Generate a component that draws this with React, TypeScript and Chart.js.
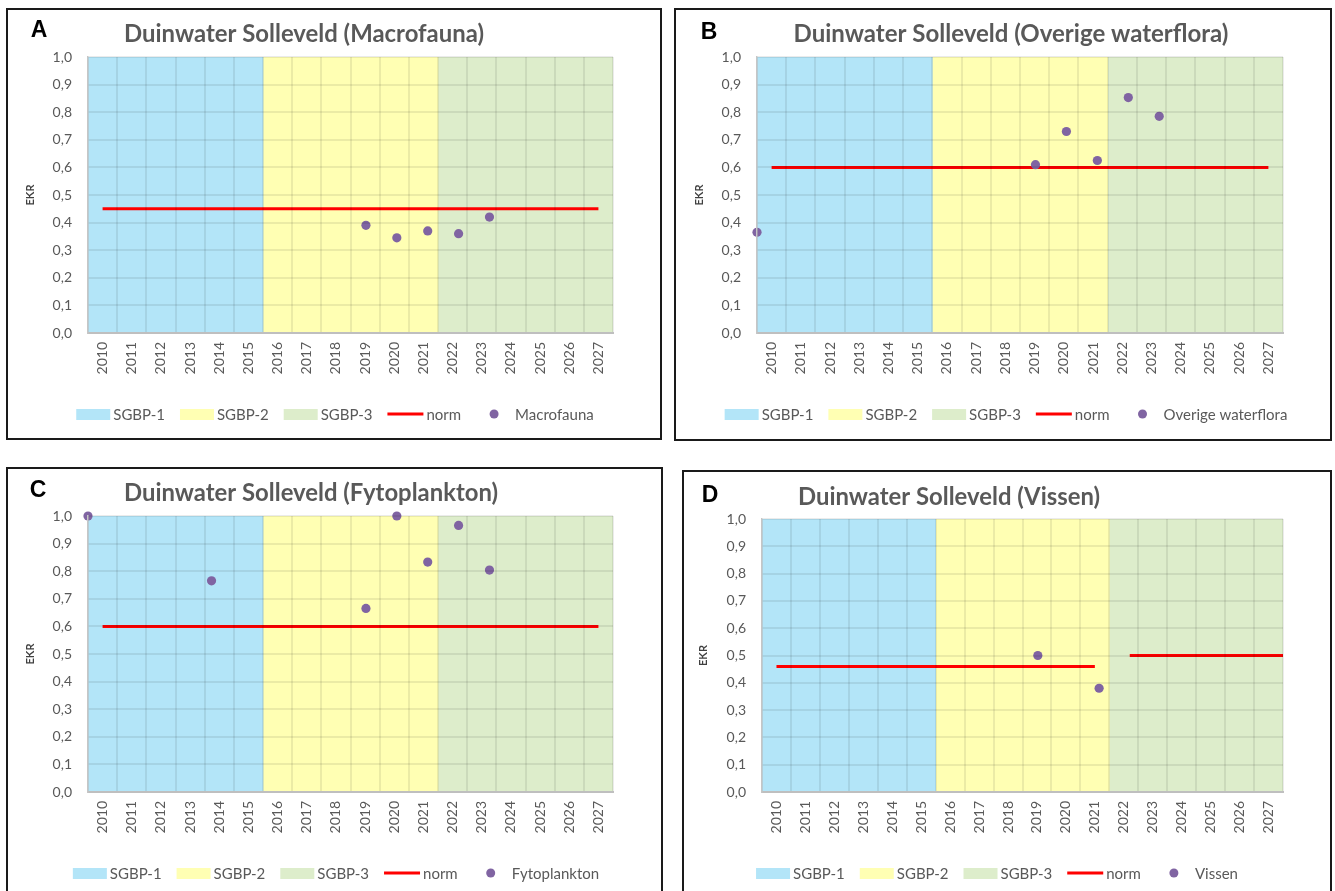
import React, { useEffect, useRef } from 'react';
import { Chart, registerables } from 'chart.js';

Chart.register(...registerables);

// ---- data ----
const years = ['2010', '2011', '2012', '2013', '2014', '2015', '2016', '2017', '2018',
  '2019', '2020', '2021', '2022', '2023', '2024', '2025', '2026', '2027'];

// planning periods (SGBP) drawn as full-height background bars
const sgbp1 = [1, 1, 1, 1, 1, 1, null, null, null, null, null, null, null, null, null, null, null, null];
const sgbp2 = [null, null, null, null, null, null, 1, 1, 1, 1, 1, 1, null, null, null, null, null, null];
const sgbp3 = [null, null, null, null, null, null, null, null, null, null, null, null, 1, 1, 1, 1, 1, 1];

// norm per year
const normMacrofauna = [0.45, 0.45, 0.45, 0.45, 0.45, 0.45, 0.45, 0.45, 0.45, 0.45, 0.45, 0.45, 0.45, 0.45, 0.45, 0.45, 0.45, 0.45];
const normWaterflora = [0.6, 0.6, 0.6, 0.6, 0.6, 0.6, 0.6, 0.6, 0.6, 0.6, 0.6, 0.6, 0.6, 0.6, 0.6, 0.6, 0.6, 0.6];
const normFytoplankton = [0.6, 0.6, 0.6, 0.6, 0.6, 0.6, 0.6, 0.6, 0.6, 0.6, 0.6, 0.6, 0.6, 0.6, 0.6, 0.6, 0.6, 0.6];
const normVissen = [0.46, 0.46, 0.46, 0.46, 0.46, 0.46, 0.46, 0.46, 0.46, 0.46, 0.46, 0.46, null, null, null, null, null, null];
const normVissenLateYears = [2022, 2027];
const normVissenLate = [0.5, 0.5];

// measured EKR scores
const macrofaunaYears = [2019, 2020, 2021, 2022, 2023];
const macrofaunaEkr = [0.39, 0.345, 0.37, 0.36, 0.42];
const waterfloraYears = [2010, 2019, 2020, 2021, 2022, 2023];
const waterfloraEkr = [0.365, 0.61, 0.73, 0.625, 0.853, 0.785];
const fytoplanktonYears = [2010, 2014, 2019, 2020, 2021, 2022, 2023];
const fytoplanktonEkr = [1.0, 0.765, 0.665, 1.0, 0.833, 0.966, 0.804];
const vissenYears = [2019, 2021];
const vissenEkr = [0.5, 0.38];

// ---- styling ----
const FONT = 'Lato, "Open Sans", "DejaVu Sans", sans-serif';
const TEXT = '#595959';
const BLUE = '#B3E5F8';
const YELLOW = '#FFFFB3';
const GREEN = '#DDEDCB';
const RED = '#FF0000';
const PURPLE = '#8064A2';
const GRID = 'rgba(0,0,0,0.08)';

type Box = { x: number; y: number; w: number; h: number };
type Area = { l: number; t: number; r: number; b: number };
type Panel = {
  letter: string;
  title: string;
  series: string;
  box: Box;
  plot: Area;
  titleX: number; titleY: number; titleW: number;
  letterX: number; letterY: number;
  ekrX: number;
  legendX: number; legendY: number;
  norm: (number | null)[];
  normLate?: { x: number; y: number }[];
  points: { x: number; y: number }[];
};

const toPoints = (xs: number[], ys: number[]) => xs.map((x, i) => ({ x, y: ys[i] }));

const panels: Panel[] = [
  {
    letter: 'A', title: 'Duinwater Solleveld (Macrofauna)', series: 'Macrofauna',
    box: { x: 6, y: 8, w: 656, h: 432 }, plot: { l: 88, t: 57, r: 613, b: 333 },
    titleX: 304, titleY: 34, titleW: 360, letterX: 39, letterY: 30, ekrX: 30,
    legendX: 335, legendY: 414,
    norm: normMacrofauna, points: toPoints(macrofaunaYears, macrofaunaEkr),
  },
  {
    letter: 'B', title: 'Duinwater Solleveld (Overige waterflora)', series: 'Overige waterflora',
    box: { x: 674, y: 8, w: 658, h: 433 }, plot: { l: 757, t: 57, r: 1283, b: 333 },
    titleX: 1011, titleY: 34, titleW: 435, letterX: 709, letterY: 32, ekrX: 699,
    legendX: 1006, legendY: 414,
    norm: normWaterflora, points: toPoints(waterfloraYears, waterfloraEkr),
  },
  {
    letter: 'C', title: 'Duinwater Solleveld (Fytoplankton)', series: 'Fytoplankton',
    box: { x: 6, y: 467, w: 657, h: 432 }, plot: { l: 88, t: 516, r: 613, b: 792 },
    titleX: 311, titleY: 493, titleW: 374, letterX: 38, letterY: 490, ekrX: 30,
    legendX: 336, legendY: 873,
    norm: normFytoplankton, points: toPoints(fytoplanktonYears, fytoplanktonEkr),
  },
  {
    letter: 'D', title: 'Duinwater Solleveld (Vissen)', series: 'Vissen',
    box: { x: 682, y: 470, w: 650, h: 432 }, plot: { l: 762, t: 519, r: 1283, b: 792 },
    titleX: 949, titleY: 497, titleW: 302, letterX: 710, letterY: 495, ekrX: 703,
    legendX: 997, legendY: 873,
    norm: normVissen, normLate: toPoints(normVissenLateYears, normVissenLate),
    points: toPoints(vissenYears, vissenEkr),
  },
];

// draws the panel letter, the title and the legend row
function decorPlugin(p: Panel) {
  return {
    id: 'panelDecor',
    afterDraw(chart: any) {
      const ctx: CanvasRenderingContext2D = chart.ctx;
      const ox = p.box.x;
      const oy = p.box.y;
      ctx.save();

      // panel letter
      ctx.fillStyle = '#000';
      ctx.font = `bold 23px "Liberation Sans", Arial, sans-serif`;
      ctx.textAlign = 'center';
      ctx.textBaseline = 'middle';
      ctx.fillText(p.letter, p.letterX - ox, p.letterY - oy + 1);

      // title, sized to its width
      ctx.font = `bold 20px ${FONT}`;
      const w20 = ctx.measureText(p.title).width;
      const size = (20 * p.titleW) / w20;
      ctx.font = `bold ${size.toFixed(2)}px ${FONT}`;
      ctx.fillStyle = TEXT;
      ctx.fillText(p.title, p.titleX - ox, p.titleY - oy);

      // legend
      const items = chart.data.datasets
        .filter((d: any) => !d.hideInLegend)
        .map((d: any) => ({
          label: d.label as string,
          kind: d.type === 'bar' ? 'box' : d.type === 'line' ? 'line' : 'dot',
          color: (d.type === 'line' ? d.borderColor : d.backgroundColor) as string,
        }));
      ctx.font = `15px ${FONT}`;
      const keyW = (k: string) => (k === 'box' ? 34 : 36);
      const textGap = 3;
      const itemGap = 15;
      let total = 0;
      items.forEach((it: any, i: number) => {
        total += keyW(it.kind) + textGap + ctx.measureText(it.label).width;
        if (i < items.length - 1) total += itemGap;
      });
      let cx = p.legendX - ox - total / 2;
      const cy = p.legendY - oy;
      ctx.textAlign = 'left';
      ctx.textBaseline = 'middle';
      items.forEach((it: any) => {
        const kw = keyW(it.kind);
        if (it.kind === 'box') {
          ctx.fillStyle = it.color;
          ctx.fillRect(cx, cy - 5, kw, 11);
        } else if (it.kind === 'line') {
          ctx.strokeStyle = it.color;
          ctx.lineWidth = 3;
          ctx.beginPath();
          ctx.moveTo(cx, cy);
          ctx.lineTo(cx + kw, cy);
          ctx.stroke();
        } else {
          ctx.fillStyle = it.color;
          ctx.beginPath();
          ctx.arc(cx + kw / 2, cy, 4.5, 0, Math.PI * 2);
          ctx.fill();
        }
        cx += kw + textGap;
        ctx.fillStyle = TEXT;
        ctx.fillText(it.label, cx, cy + 1);
        cx += ctx.measureText(it.label).width + itemGap;
      });
      ctx.restore();
    },
  };
}

function buildConfig(p: Panel): any {
  const padLeft = p.ekrX - p.box.x - 6;
  const yWidth = p.plot.l - p.box.x - padLeft;
  const padTop = p.plot.t - p.box.y;
  const padRight = p.box.x + p.box.w - p.plot.r;
  const xHeight = p.box.y + p.box.h - p.plot.b;
  const tickFont = { family: FONT, size: 14 };

  const bandDefaults = {
    type: 'bar',
    barPercentage: 1,
    categoryPercentage: 1,
    grouped: false,
    borderWidth: 0,
    order: 3,
  };

  const datasets: any[] = [
    { ...bandDefaults, label: 'SGBP-1', data: sgbp1, backgroundColor: BLUE },
    { ...bandDefaults, label: 'SGBP-2', data: sgbp2, backgroundColor: YELLOW },
    { ...bandDefaults, label: 'SGBP-3', data: sgbp3, backgroundColor: GREEN },
    {
      type: 'line', label: 'norm', data: p.norm, borderColor: RED, backgroundColor: RED,
      borderWidth: 3, pointRadius: 0, fill: false, spanGaps: false, order: 1,
    },
  ];
  if (p.normLate) {
    datasets.push({
      type: 'line', label: 'norm', data: p.normLate, xAxisID: 'x2', borderColor: RED,
      backgroundColor: RED, borderWidth: 3, pointRadius: 0, fill: false, order: 1,
      hideInLegend: true,
    });
  }
  datasets.push({
    type: 'scatter', label: p.series, data: p.points, xAxisID: 'x2',
    backgroundColor: PURPLE, borderColor: PURPLE, pointRadius: 4.6, pointBorderWidth: 0,
    borderWidth: 0, showLine: false, order: 0, clip: false,
  });

  return {
    type: 'bar',
    data: { labels: years, datasets },
    options: {
      responsive: false,
      animation: false,
      events: [],
      layout: { padding: { left: padLeft, top: padTop, right: padRight, bottom: 0 } },
      plugins: { legend: { display: false }, title: { display: false }, tooltip: { enabled: false } },
      scales: {
        x: {
          type: 'category',
          offset: true,
          grid: { color: GRID, offset: true, drawTicks: false, lineWidth: 2, z: 1 },
          border: { color: '#BFBFBF', width: 2, z: 2 },
          ticks: {
            autoSkip: false, minRotation: 90, maxRotation: 90, padding: 9,
            color: TEXT, font: tickFont,
          },
          afterFit: (s: any) => { s.height = xHeight; },
        },
        x2: {
          type: 'linear', display: false, offset: false, min: 2010, max: 2027,
          grid: { offset: false },
        },
        y: {
          min: 0,
          max: 1,
          grid: { color: GRID, drawTicks: false, lineWidth: 2, z: 1 },
          border: { color: '#C6C6C6', width: 1.5, z: 2 },
          ticks: {
            stepSize: 0.1, padding: 16, color: TEXT, font: tickFont,
            callback: (v: any) => Number(v).toFixed(1).replace('.', ','),
          },
          title: {
            display: true, text: 'EKR', color: '#404040', padding: 0,
            font: { family: FONT, size: 11, weight: 'bold' },
          },
          afterFit: (s: any) => { s.width = yWidth; },
        },
      },
    },
    plugins: [decorPlugin(p)],
  };
}

function PanelChart({ panel }: { panel: Panel }) {
  const ref = useRef<HTMLCanvasElement>(null);
  useEffect(() => {
    if (!ref.current) return;
    const chart = new Chart(ref.current, buildConfig(panel));
    return () => chart.destroy();
  }, [panel]);
  const { x, y, w, h } = panel.box;
  return (
    <>
      <canvas
        ref={ref}
        width={w}
        height={h}
        style={{ position: 'absolute', left: x, top: y, width: w, height: h }}
      />
      <div
        style={{
          position: 'absolute', left: x, top: y, width: w, height: h,
          border: '2px solid #1a1a1a', boxSizing: 'border-box', pointerEvents: 'none',
        }}
      />
    </>
  );
}

export default function App() {
  return (
    <div
      style={{
        position: 'absolute', left: 0, top: 0, width: 1335, height: 891,
        overflow: 'hidden', background: '#fff',
      }}
    >
      {panels.map((p) => (
        <PanelChart key={p.letter} panel={p} />
      ))}
    </div>
  );
}
